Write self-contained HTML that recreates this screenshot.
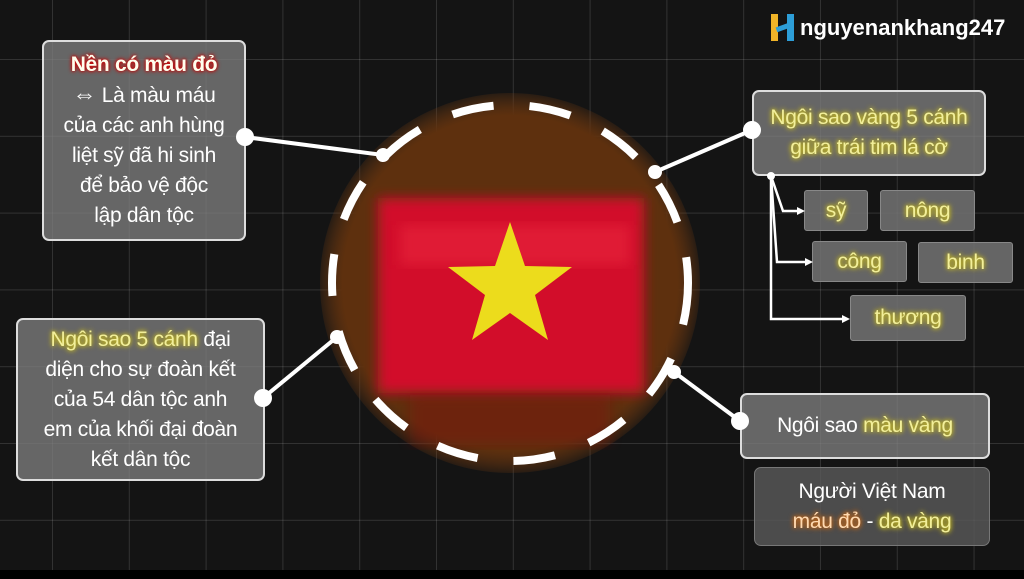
<!DOCTYPE html>
<html><head><meta charset="utf-8"><style>
body{margin:0;width:1024px;height:579px;overflow:hidden;background:#141414;font-family:"Liberation Sans","DejaVu Sans",sans-serif;}
#c{position:absolute;left:0;top:0;width:1024px;height:579px;
background-image:linear-gradient(to right,rgba(255,255,255,.13) 1px,transparent 1px),linear-gradient(to bottom,rgba(255,255,255,.13) 1px,transparent 1px);
background-size:76.8px 76.8px;background-position:52px 59px;}
.b{position:absolute;box-sizing:border-box;background:rgba(125,125,125,.78);border:2px solid #ddd;border-radius:7px;color:#fff;text-align:center;font-size:21px;line-height:30px;display:flex;align-items:center;justify-content:center;flex-direction:column;letter-spacing:-0.3px}
.y{color:#f2ef9a;text-shadow:0 0 4px #cdbf1a,0 0 6px #cdbf1a}
.s{border:1px solid #888;border-radius:3px;background:rgba(115,115,115,.85)}
svg{position:absolute;left:0;top:0}
</style></head><body>
<div id="c"></div>
<div style="position:absolute;left:0;top:570px;width:1024px;height:9px;background:#000"></div>
<svg width="1024" height="579">
<defs>
<radialGradient id="g" cx="50%" cy="50%" r="50%"><stop offset="88%" stop-color="#5e300e"/><stop offset="100%" stop-color="#7a3e10" stop-opacity="0.2"/></radialGradient>
<filter id="bl"><feGaussianBlur stdDeviation="6"/></filter>
</defs>
<circle cx="510" cy="283" r="190" fill="url(#g)"/>
<rect x="378" y="198" width="266" height="195" fill="#d20f2a" filter="url(#bl)"/>
<rect x="400" y="225" width="230" height="40" fill="#ee2a40" opacity=".5" filter="url(#bl)"/>
<rect x="410" y="395" width="200" height="50" fill="#8a1010" opacity=".35" filter="url(#bl)"/>
<polygon points="510,222 525,266 572,267 535,295 548,340 510,313 472,340 485,295 448,267 495,266" fill="#ecdc1c"/>
<circle cx="510" cy="283" r="178" fill="none" stroke="#fff" stroke-width="8" stroke-dasharray="42 36"/>
</svg>
<div class="b" style="left:42px;top:40px;width:204px;height:201px;line-height:30px"><div><b style="text-shadow:0 0 3px #c00,0 0 5px #c00;color:#ffe">Nền có màu đỏ</b><br><span style="font-size:24px">⇔</span> Là màu máu<br>của các anh hùng<br>liệt sỹ đã hi sinh<br>để bảo vệ độc<br>lập dân tộc</div></div>
<div class="b" style="left:16px;top:318px;width:249px;height:163px"><div><span class="y">Ngôi sao 5 cánh</span> đại<br>diện cho sự đoàn kết<br>của 54 dân tộc anh<br>em của khối đại đoàn<br>kết dân tộc</div></div>
<div class="b" style="left:752px;top:90px;width:234px;height:86px"><div class="y">Ngôi sao vàng 5 cánh<br>giữa trái tim lá cờ</div></div>
<div class="b s" style="left:804px;top:190px;width:64px;height:41px"><span class="y">sỹ</span></div>
<div class="b s" style="left:880px;top:190px;width:95px;height:41px"><span class="y">nông</span></div>
<div class="b s" style="left:812px;top:241px;width:95px;height:41px"><span class="y">công</span></div>
<div class="b s" style="left:918px;top:242px;width:95px;height:41px"><span class="y">binh</span></div>
<div class="b s" style="left:850px;top:295px;width:116px;height:46px"><span class="y">thương</span></div>
<div class="b" style="left:740px;top:393px;width:250px;height:66px"><div>Ngôi sao <span class="y">màu vàng</span></div></div>
<div class="b" style="left:754px;top:467px;width:236px;height:79px;background:rgba(90,90,90,.8);border:1px solid #777"><div>Người Việt Nam<br><span style="color:#ffd9b0;text-shadow:0 0 4px #d26a10,0 0 6px #d26a10">máu đỏ</span> - <span class="y">da vàng</span></div></div>
<svg width="1024" height="579">
<g stroke="#fff" stroke-width="4" fill="#fff">
<line x1="245" y1="137" x2="383" y2="155"/><circle cx="245" cy="137" r="7"/><circle cx="383" cy="155" r="5"/>
<line x1="752" y1="130" x2="655" y2="172"/><circle cx="752" cy="130" r="7"/><circle cx="655" cy="172" r="5"/>
<line x1="263" y1="398" x2="337" y2="337"/><circle cx="263" cy="398" r="7"/><circle cx="337" cy="337" r="5"/>
<line x1="740" y1="421" x2="674" y2="372"/><circle cx="740" cy="421" r="7"/><circle cx="674" cy="372" r="5"/>
</g>
<g stroke="#fff" stroke-width="2.5" fill="none">
<polyline points="771,176 783,211 800,211"/>
<polyline points="771,176 777,262 808,262"/>
<polyline points="771,176 771,319 845,319"/>
</g>
<g fill="#fff"><polygon points="805,211 797,207 797,215"/><polygon points="813,262 805,258 805,266"/><polygon points="850,319 842,315 842,323"/><circle cx="771" cy="176" r="4"/></g>
</svg>
<div style="position:absolute;left:771px;top:14px;width:24px;height:27px;">
<div style="position:absolute;left:0;top:0;width:7px;height:27px;background:#f0b428"></div>
<div style="position:absolute;left:16px;top:0;width:7px;height:27px;background:#2d9ed8"></div>
<div style="position:absolute;left:5px;top:11px;width:14px;height:5px;background:#2d9ed8;transform:rotate(-20deg)"></div>
</div>
<div style="position:absolute;left:800px;top:14px;color:#fff;font-weight:bold;font-size:22px;line-height:28px">nguyenankhang247</div>
</body></html>
